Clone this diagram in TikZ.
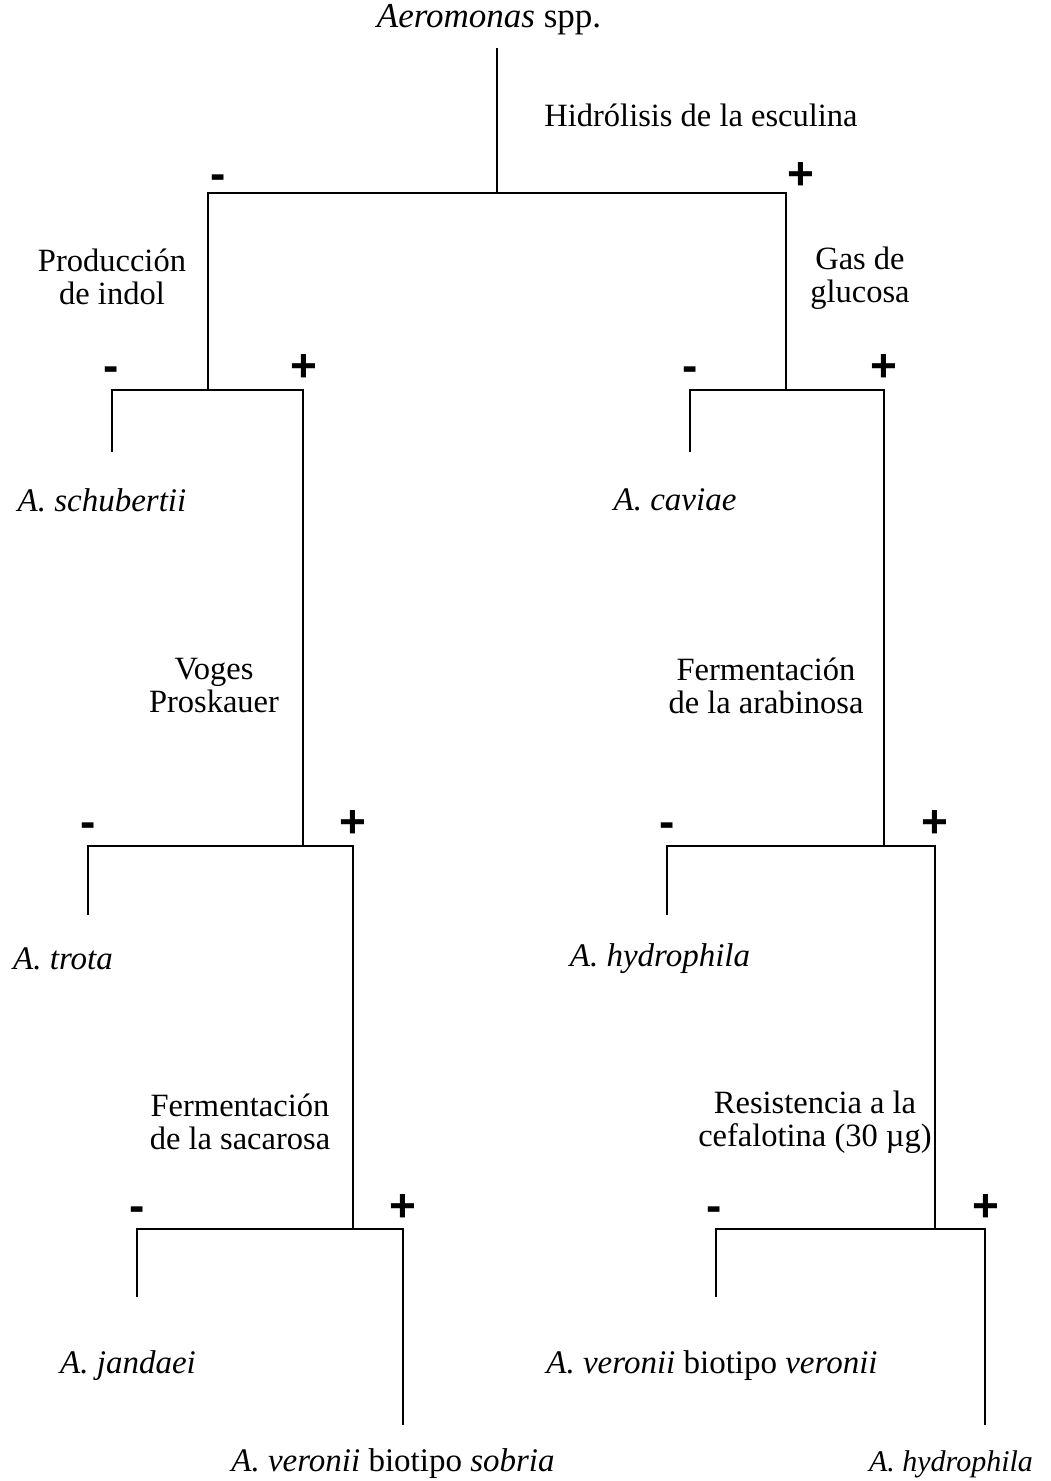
\documentclass[tikz,border=0pt]{standalone}
\usepackage{fontspec}
\setmainfont{Liberation Serif}
\newfontfamily\signfont{Liberation Sans}
\begin{document}
\begin{tikzpicture}[x=1pt,y=-1pt,
  line width=2.8pt,
  lab/.style={font=\fontsize{32.5}{33}\selectfont, align=center, inner sep=0pt},
  sp/.style={font=\fontsize{33}{33}\selectfont, inner sep=0pt},
  sign/.style={font=\fontsize{46}{46}\selectfont\signfont\bfseries, inner sep=0pt, anchor=base}]
\useasboundingbox (0,0) rectangle (1050,1481);

% texts
\node[sp, font=\fontsize{35}{35}\selectfont] (title) at (489,20) {\textit{Aeromonas} spp.};
\node[lab] (t1) at (701,115) {Hidrólisis de la esculina};
\node[lab] (t2) at (112,277) {Producción\\de indol};
\node[lab] (t3) at (860,278) {Gas de\\glucosa};
\node[lab] (t4) at (214,686) {Voges\\Proskauer};
\node[lab] (t5) at (766,686) {Fermentación\\de la arabinosa};
\node[lab] (t6) at (240,1122) {Fermentación\\de la sacarosa};
\node[lab] (t7) at (815,1122) {Resistencia a la\\cefalotina (30 µg)};

\node[sp] (s1) at (102,500) {\textit{A. schubertii}};
\node[sp] (s2) at (675,500) {\textit{A. caviae}};
\node[sp] (s3) at (63,959) {\textit{A. trota}};
\node[sp] (s4) at (660,959) {\textit{A. hydrophila}};
\node[sp] (s5) at (128,1366) {\textit{A. jandaei}};
\node[sp] (s6) at (712,1366) {\textit{A. veronii} biotipo \textit{veronii}};
\node[sp] (s7) at (393,1464) {\textit{A. veronii} biotipo \textit{sobria}};
\node[sp, font=\fontsize{30}{30}\selectfont] (s8) at (951,1464) {\textit{A. hydrophila}};

% signs
\node[sign] (m1) at (218,189) {-};
\node[sign] (p1) at (801,189) {+};
\node[sign] (m2) at (111,381) {-};
\node[sign] (p2) at (304,381) {+};
\node[sign] (m3) at (690,381) {-};
\node[sign] (p3) at (884,381) {+};
\node[sign] (m4) at (88,837) {-};
\node[sign] (p4) at (353,837) {+};
\node[sign] (m5) at (667,837) {-};
\node[sign] (p5) at (935,837) {+};
\node[sign] (m6) at (137,1221) {-};
\node[sign] (p6) at (403,1221) {+};
\node[sign] (m7) at (714,1221) {-};
\node[sign] (p7) at (986,1221) {+};

% junction coordinates
\coordinate (r0) at (497,48);
\coordinate (j1) at (497,193);
\coordinate (a1) at (208,193);
\coordinate (b1) at (786,193);
\coordinate (j2) at (208,390);
\coordinate (a2) at (112,390);
\coordinate (b2) at (303,390);
\coordinate (e2) at (112,452);
\coordinate (j3) at (786,390);
\coordinate (a3) at (690,390);
\coordinate (b3) at (884,390);
\coordinate (e3) at (690,452);
\coordinate (j4) at (303,846);
\coordinate (a4) at (88,846);
\coordinate (b4) at (353,846);
\coordinate (e4) at (88,915);
\coordinate (j5) at (884,846);
\coordinate (a5) at (667,846);
\coordinate (b5) at (935,846);
\coordinate (e5) at (667,915);
\coordinate (j6) at (353,1229);
\coordinate (a6) at (137,1229);
\coordinate (b6) at (403,1229);
\coordinate (e6) at (137,1297);
\coordinate (f6) at (403,1425);
\coordinate (j7) at (935,1229);
\coordinate (a7) at (716,1229);
\coordinate (b7) at (985,1229);
\coordinate (e7) at (716,1297);
\coordinate (f7) at (985,1425);

% connectors
\draw (r0) -- (j1);
\draw (j2) -- (a1) -- (b1) -- (j3);
\draw (e2) -- (a2) -- (b2) -- (j4);
\draw (e3) -- (a3) -- (b3) -- (j5);
\draw (e4) -- (a4) -- (b4) -- (j6);
\draw (e5) -- (a5) -- (b5) -- (j7);
\draw (e6) -- (a6) -- (b6) -- (f6);
\draw (e7) -- (a7) -- (b7) -- (f7);
\end{tikzpicture}
\end{document}
